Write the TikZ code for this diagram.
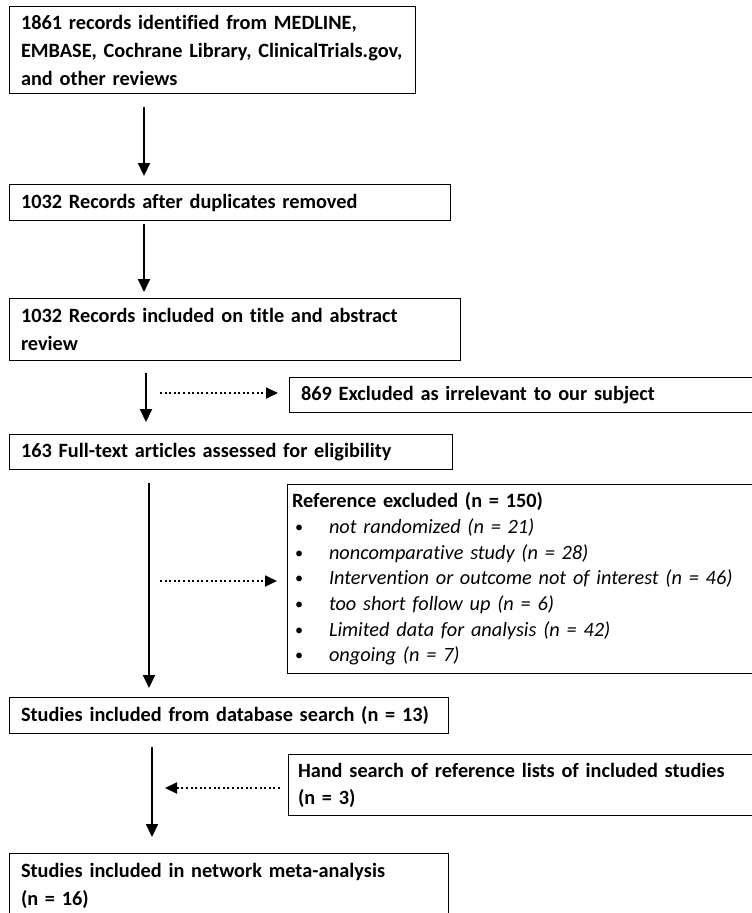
\documentclass[tikz,border=0pt]{standalone}
\usepackage{fontspec}
\setmainfont{Carlito}[Ligatures=NoCommon]
\usetikzlibrary{arrows.meta, positioning}

\newcommand{\bul}{\hspace*{3pt}\makebox[34pt][l]{\raisebox{1pt}{\scalebox{0.8}{\textbullet}}}}

\tikzset{
    stage/.style={draw, line width=1pt, anchor=north west, align=left, inner xsep=11pt, inner ysep=0pt,
        font=\bfseries\fontsize{20.3}{28}\selectfont},
    flow/.style={line width=2pt, -{Triangle[length=13pt, width=12pt]}},
    side/.style={line width=1.8pt, dash pattern=on 2pt off 2.6pt, -{Triangle[length=12pt, width=11pt]}}
}

\begin{document}
\begin{tikzpicture}[x=1pt, y=-1pt]
    \useasboundingbox (0,0) rectangle (752,913);

    % main column
    \node[stage, minimum width=406pt, minimum height=87pt, text width=383pt] (ident) at (9,6)
        {1861 records identified from MEDLINE,\\ EMBASE, Cochrane Library, ClinicalTrials.gov,\\ and other reviews};
    \node[stage, minimum width=441pt, minimum height=36pt, text width=418pt] (dedup) at (9,184)
        {1032 Records after duplicates removed};
    \node[stage, minimum width=451pt, minimum height=62pt, text width=428pt] (screen) at (9,298)
        {1032 Records included on title and abstract\\ review};
    \node[stage, minimum width=443pt, minimum height=35pt, text width=420pt] (fulltext) at (9,434)
        {163 Full-text articles assessed for eligibility};
    \node[stage, minimum width=439pt, minimum height=36pt, text width=416pt] (dbase) at (9,697)
        {Studies included from database search (n = 13)};
    \node[stage, minimum width=439pt, minimum height=65pt, text width=416pt] (nma) at (9,853)
        {Studies included in network meta-analysis\\ (n = 16)};

    % side boxes
    \node[stage, minimum width=470pt, minimum height=35pt, text width=447pt] (irrel) at (289,377)
        {869 Excluded as irrelevant to our subject};
    \node[stage, minimum width=472pt, minimum height=189pt, text width=463pt, inner xsep=4pt,
        font=\fontsize{20.3}{25.7}\selectfont] (refexcl) at (287,484)
        {\textbf{Reference excluded (n = 150)}\\
         \bul\textit{not randomized (n = 21)}\\
         \bul\textit{noncomparative study (n = 28)}\\
         \bul\textit{Intervention or outcome not of interest (n = 46)}\\
         \bul\textit{too short follow up (n = 6)}\\
         \bul\textit{Limited data for analysis (n = 42)}\\
         \bul\textit{ongoing (n = 7)}};
    \node[stage, minimum width=471pt, minimum height=61pt, text width=452pt, inner xsep=9pt,
        font=\bfseries\fontsize{20.3}{27}\selectfont] (hand) at (288,754)
        {Hand search of reference lists of included studies\\ (n = 3)};

    % arrow columns
    \coordinate (t1) at (144,0);
    \coordinate (t2) at (144,0);
    \coordinate (t3) at (146,0);
    \coordinate (t4) at (149,0);
    \coordinate (t5) at (152,0);
    \coordinate (d1) at (160,393);
    \coordinate (d2) at (160,581);
    \coordinate (d3) at (165,788);

    \draw[flow, shorten <=13pt, shorten >=8pt] (ident.south -| t1) -- (dedup.north -| t1);
    \draw[flow, shorten <=3pt, shorten >=6pt] (dedup.south -| t2) -- (screen.north -| t2);
    \draw[flow, shorten <=12pt, shorten >=12pt] (screen.south -| t3) -- (fulltext.north -| t3);
    \draw[flow, shorten <=13pt, shorten >=9pt] (fulltext.south -| t4) -- (dbase.north -| t4);
    \draw[flow, shorten <=13pt, shorten >=16pt] (dbase.south -| t5) -- (nma.north -| t5);

    \draw[side, shorten >=11pt] (d1) -- (d1 -| irrel.west);
    \draw[side, shorten >=10pt] (d2) -- (d2 -| refexcl.west);
    \draw[side, shorten <=8pt] (hand.west |- d3) -- (d3);
\end{tikzpicture}
\end{document}
